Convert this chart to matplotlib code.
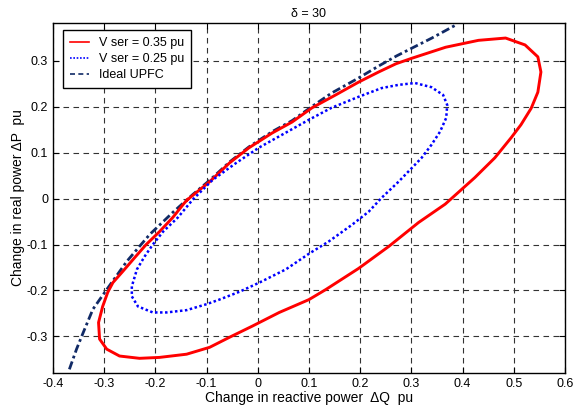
import matplotlib
matplotlib.use("Agg")
import matplotlib.pyplot as plt
from matplotlib.lines import Line2D

plt.rcParams['font.family'] = ['Liberation Sans', 'DejaVu Sans']

# V ser = 0.35 pu (closed loop)
q_035 = [-0.137, -0.094, -0.055, -0.017, 0.028, 0.067, 0.106, 0.152, 0.197, 0.236, 0.270,
         0.301, 0.367, 0.431, 0.484, 0.522, 0.547, 0.553, 0.547, 0.534, 0.514, 0.495,
         0.463, 0.424, 0.366, 0.314, 0.256, 0.197, 0.133, 0.100, 0.042, -0.011, -0.055,
         -0.094, -0.139, -0.192, -0.231, -0.270, -0.295, -0.309, -0.311, -0.303, -0.293,
         -0.283, -0.264, -0.240, -0.218, -0.192, -0.166, -0.143, -0.137]
p_035 = [-0.002, 0.037, 0.078, 0.111, 0.143, 0.167, 0.198, 0.226, 0.254, 0.276, 0.294,
         0.306, 0.330, 0.345, 0.350, 0.335, 0.309, 0.276, 0.232, 0.197, 0.161, 0.133,
         0.089, 0.046, -0.012, -0.052, -0.104, -0.152, -0.198, -0.220, -0.248, -0.278, -0.302,
         -0.324, -0.339, -0.346, -0.348, -0.343, -0.328, -0.306, -0.270, -0.235, -0.204,
         -0.183, -0.159, -0.128, -0.100, -0.072, -0.041, -0.009, -0.002]

# V ser = 0.25 pu
q_025 = [-0.127, -0.088, -0.042, 0.002, 0.047, 0.100, 0.144, 0.197, 0.242, 0.275, 0.307,
         0.339, 0.362, 0.370, 0.368, 0.356, 0.339, 0.320, 0.301, 0.275, 0.242, 0.217,
         0.184, 0.139, 0.100, 0.055, 0.003, -0.036, -0.075, -0.100, -0.139, -0.178,
         -0.205, -0.234, -0.246, -0.246, -0.236, -0.221, -0.205, -0.185, -0.156, -0.127]
p_025 = [-0.002, 0.041, 0.078, 0.111, 0.139, 0.172, 0.198, 0.222, 0.241, 0.248, 0.252,
         0.243, 0.226, 0.204, 0.176, 0.146, 0.117, 0.089, 0.067, 0.037, 0.002, -0.028,
         -0.057, -0.093, -0.120, -0.154, -0.183, -0.203, -0.220, -0.230, -0.243, -0.248,
         -0.248, -0.235, -0.213, -0.191, -0.154, -0.126, -0.100, -0.072, -0.041, -0.002]

# Ideal UPFC
q_ideal = [-0.368, -0.354, -0.341, -0.322, -0.295, -0.256, -0.231, -0.211, -0.166, -0.127,
           -0.094, -0.055, -0.017, 0.028, 0.067, 0.106, 0.144, 0.197, 0.236, 0.271, 0.301,
           0.340, 0.386]
p_ideal = [-0.372, -0.328, -0.292, -0.241, -0.198, -0.137, -0.104, -0.078, -0.030, 0.009,
           0.040, 0.080, 0.113, 0.146, 0.170, 0.201, 0.230, 0.263, 0.289, 0.311, 0.328,
           0.350, 0.378]

fig = plt.figure(figsize=(5.74, 4.09), dpi=100)
ax = fig.add_axes([0.0923, 0.088, 0.892, 0.856])

ax.plot(q_ideal, p_ideal, color='#112a66', lw=2.0, linestyle=(0, (3, 1.2, 1, 1.2)))
ax.plot(q_035, p_035, color='#ff0000', lw=2.1)
ax.plot(q_025, p_025, color='#0000ff', lw=1.8, linestyle=(0, (1, 1)))

ax.set_xlim(-0.4, 0.6)
ax.set_ylim(-0.38, 0.383)
ax.set_xticks([-0.4, -0.3, -0.2, -0.1, 0, 0.1, 0.2, 0.3, 0.4, 0.5, 0.6])
ax.set_xticklabels(['-0.4', '-0.3', '-0.2', '-0.1', '0', '0.1', '0.2', '0.3', '0.4', '0.5', '0.6'])
ax.set_yticks([-0.3, -0.2, -0.1, 0, 0.1, 0.2, 0.3])
ax.set_yticklabels(['-0.3', '-0.2', '-0.1', '0', '0.1', '0.2', '0.3'])
ax.tick_params(direction='in', top=True, right=True, labelsize=9, length=4, width=0.8)
ax.grid(True, color='0.2', linestyle=(0, (5, 4)), linewidth=0.8)
for s in ax.spines.values():
    s.set_linewidth(1.0)

ax.set_title('\u03b4 = 30', fontsize=9, pad=4)
ax.set_xlabel('Change in reactive power  \u0394Q  pu', fontsize=10, labelpad=1)
ax.set_ylabel('Change in real power \u0394P  pu', fontsize=10, labelpad=1)

handles = [Line2D([], [], color='#ff0000', lw=1.2),
           Line2D([], [], color='#0000ff', lw=1.2, linestyle=(0, (1, 1))),
           Line2D([], [], color='#112a66', lw=1.2, linestyle=(0, (3, 2)))]
leg = ax.legend(handles, ['V ser = 0.35 pu', 'V ser = 0.25 pu', 'Ideal UPFC'],
                loc='upper left', bbox_to_anchor=(0.0195, 0.98), borderaxespad=0,
                fontsize=9, fancybox=False, edgecolor='black', framealpha=1,
                handlelength=1.45, handletextpad=0.8, labelspacing=0.3, borderpad=0.6)
leg.get_frame().set_linewidth(1.0)

fig.savefig('out.png', dpi=100)
